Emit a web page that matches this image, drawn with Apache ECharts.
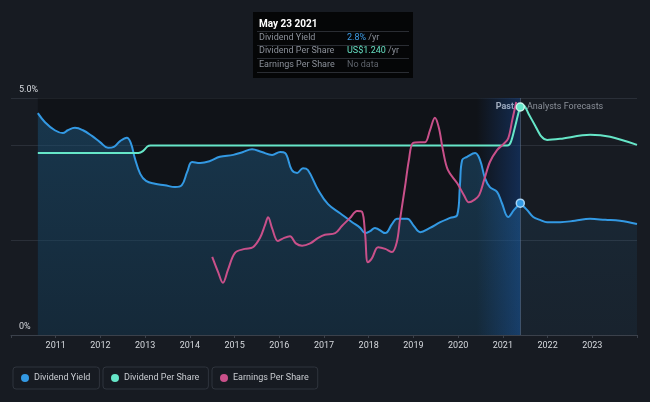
<!DOCTYPE html>
<html><head><meta charset="utf-8">
<script src="https://cdn.jsdelivr.net/npm/echarts@6/dist/echarts.min.js"></script>
<style>html,body{margin:0;padding:0;background:#171b22;}#c{width:650px;height:402px;}</style>
</head><body><div id="c"></div>
<script>
// ---- data (x = decimal year) ----
const xTickYears = [2011,2012,2013,2014,2015,2016,2017,2018,2019,2020,2021,2022,2023];
const yieldPast = [
 [2010.60,4.68],[2010.76,4.49],[2010.98,4.32],[2011.16,4.26],[2011.27,4.32],[2011.43,4.37],[2011.61,4.32],
 [2011.81,4.20],[2011.99,4.07],[2012.17,3.95],[2012.30,3.97],[2012.44,4.09],[2012.59,4.16],[2012.68,4.05],
 [2012.77,3.73],[2012.89,3.40],[2013.02,3.25],[2013.22,3.19],[2013.44,3.16],[2013.67,3.12],[2013.82,3.16],
 [2013.94,3.44],[2014.05,3.65],[2014.23,3.63],[2014.45,3.67],[2014.67,3.76],[2014.97,3.80],[2015.19,3.86],
 [2015.39,3.92],[2015.61,3.86],[2015.84,3.80],[2016.02,3.86],[2016.13,3.84],[2016.28,3.48],[2016.40,3.42],
 [2016.53,3.52],[2016.64,3.48],[2016.87,3.06],[2017.09,2.76],[2017.36,2.57],[2017.63,2.38],[2017.81,2.26],
 [2017.92,2.15],[2018.03,2.19],[2018.14,2.26],[2018.37,2.15],[2018.52,2.34],[2018.63,2.45],[2018.86,2.45],
 [2019.01,2.30],[2019.15,2.17],[2019.37,2.26],[2019.60,2.38],[2019.82,2.47],[2019.98,2.53],[2020.04,3.16],
 [2020.09,3.69],[2020.20,3.76],[2020.38,3.84],[2020.49,3.69],[2020.60,3.31],[2020.71,3.12],[2020.87,3.02],
 [2020.98,2.78],[2021.12,2.49],[2021.25,2.64],[2021.39,2.78]
];
const yieldForecast = [
 [2021.39,2.78],[2021.54,2.64],[2021.68,2.49],[2021.83,2.43],[2021.99,2.38],[2022.28,2.38],[2022.61,2.41],
 [2022.95,2.45],[2023.29,2.43],[2023.62,2.41],[2024.00,2.34]
];
const dpsData = [
 [2010.60,0.99],[2011.50,0.99],[2012.50,0.99],[2012.85,0.99],[2012.95,1.00],[2013.05,1.025],[2013.12,1.03],
 [2014.5,1.03],[2016.5,1.03],[2018.5,1.03],[2020.5,1.03],[2021.10,1.03],[2021.18,1.05],[2021.28,1.14],
 [2021.39,1.24],[2021.46,1.25],[2021.58,1.20],[2021.72,1.14],[2021.86,1.08],[2021.99,1.061],[2022.28,1.067],
 [2022.95,1.089],[2023.40,1.078],[2024.00,1.034]
];
const epsData = [
 [2014.50,0.99],[2014.63,0.80],[2014.74,0.66],[2014.85,0.82],[2015.01,1.04],[2015.23,1.09],[2015.41,1.11],
 [2015.57,1.23],[2015.68,1.39],[2015.75,1.49],[2015.84,1.35],[2015.97,1.19],[2016.11,1.23],[2016.24,1.25],
 [2016.37,1.16],[2016.51,1.13],[2016.69,1.16],[2016.87,1.23],[2017.02,1.27],[2017.25,1.29],[2017.40,1.38],
 [2017.58,1.48],[2017.74,1.57],[2017.85,1.56],[2017.92,1.27],[2017.98,0.92],[2018.07,0.97],[2018.21,1.11],
 [2018.37,1.09],[2018.52,1.05],[2018.63,1.18],[2018.70,1.46],[2018.81,1.87],[2018.90,2.22],[2018.99,2.43],
 [2019.15,2.44],[2019.26,2.44],[2019.37,2.59],[2019.48,2.75],[2019.57,2.62],[2019.66,2.34],[2019.77,2.09],
 [2019.98,1.92],[2020.13,1.77],[2020.24,1.68],[2020.36,1.71],[2020.47,1.77],[2020.58,1.96],[2020.71,2.19],
 [2020.87,2.34],[2021.00,2.41],[2021.12,2.49],[2021.21,2.72],[2021.30,2.95]
];
const nowX = 2021.39;
const pastStart = 2010.60;
const bandStart = 2020.42;
const currentYield = 2.78, currentDps = 1.24;

const FONT = 'Roboto';
const C_BLUE = '#3399e3', C_TEAL = '#66e6c8', C_PINK = '#c9508a';

const chart = echarts.init(document.getElementById('c'), null, {renderer:'canvas'});
function legendFor(name, left){
  return {left:left, top:367, data:[name], icon:'circle', itemWidth:8, itemHeight:8,
    padding:[5,9,5,8], borderColor:'#2f343d', borderWidth:1, borderRadius:3, selectedMode:false,
    textStyle:{color:'#c9ccd1', fontSize:9, fontFamily:FONT, lineHeight:12}};
}
chart.setOption({
  backgroundColor:'#171b22',
  animation:false,
  grid:{left:11, right:13, top:98, bottom:67},
  legend:[legendFor('Dividend Yield',13), legendFor('Dividend Per Share',103), legendFor('Earnings Per Share',212)],
  xAxis:{type:'value', min:2010, max:2024, interval:1,
    axisLine:{lineStyle:{color:'#3b414b'}},
    axisTick:{length:3, lineStyle:{color:'#3b414b'}},
    splitLine:{show:false},
    axisLabel:{color:'#d6d9de', fontSize:9, fontFamily:FONT, margin:6,
      formatter:v=> xTickYears.indexOf(v)>=0 ? String(v) : ''}},
  yAxis:[
    {type:'value', min:0, max:5, interval:2,
      axisLine:{show:false}, axisTick:{show:false},
      splitLine:{lineStyle:{color:'#2a2f38'}},
      axisLabel:{inside:true, margin:8, verticalAlign:'bottom', padding:[0,0,4,0],
        color:'#d6d9de', fontSize:9, fontFamily:FONT,
        formatter:v=> v===0 ? '0%' : (v===5 ? '5.0%' : '')}},
    {type:'value', min:0, max:1.289, show:false},
    {type:'value', min:0, max:3.0, show:false}
  ],
  series:[
    {name:'shade', type:'line', z:0, data:[[pastStart,0]], symbol:'none', lineStyle:{opacity:0}, silent:true,
      markArea:{silent:true, itemStyle:{color:'rgba(0,0,0,0.27)'}, data:[[{xAxis:pastStart},{xAxis:nowX}]]}},
    {name:'Dividend Yield', type:'line', z:2, data:yieldPast, smooth:0.4, symbol:'none',
      lineStyle:{color:C_BLUE, width:2}, itemStyle:{color:C_BLUE},
      areaStyle:{color:new echarts.graphic.LinearGradient(0,0,0,1,[{offset:0,color:'rgba(45,150,220,0.38)'},{offset:1,color:'rgba(45,150,220,0.24)'}])}},
    {name:'Dividend Yield', type:'line', z:2, data:yieldForecast, smooth:0.4, symbol:'none',
      lineStyle:{color:C_BLUE, width:2}, itemStyle:{color:C_BLUE},
      areaStyle:{color:new echarts.graphic.LinearGradient(0,0,0,1,[{offset:0,color:'rgba(45,150,220,0.14)'},{offset:1,color:'rgba(45,150,220,0.09)'}])},
      markPoint:{symbol:'circle', symbolSize:8, label:{show:false}, silent:true,
        itemStyle:{color:C_BLUE, borderColor:'#a8d4f5', borderWidth:1.5},
        data:[{coord:[nowX,currentYield]}]}},
    {name:'band', type:'line', z:3, data:[[nowX,0]], symbol:'none', lineStyle:{opacity:0}, silent:true,
      markArea:{silent:true, itemStyle:{color:new echarts.graphic.LinearGradient(0,0,1,0,[{offset:0,color:'rgba(25,95,200,0)'},{offset:1,color:'rgba(25,95,200,0.33)'}])},
        data:[[{xAxis:bandStart},{xAxis:nowX}]]},
      markLine:{silent:true, symbol:'none', label:{show:false}, lineStyle:{color:'rgba(110,130,160,0.45)', width:1, type:'solid'},
        data:[{xAxis:nowX}]}},
    {name:'Dividend Per Share', type:'line', z:4, yAxisIndex:1, data:dpsData, smooth:0.3, symbol:'none',
      lineStyle:{color:C_TEAL, width:2}, itemStyle:{color:C_TEAL},
      markPoint:{symbol:'circle', symbolSize:8, label:{show:false}, silent:true,
        itemStyle:{color:C_TEAL, borderColor:'#c8f7ea', borderWidth:1.5},
        data:[{coord:[nowX,currentDps]}]}},
    {name:'Earnings Per Share', type:'line', z:4, yAxisIndex:2, data:epsData, smooth:0.35, symbol:'none',
      lineStyle:{color:C_PINK, width:2}, itemStyle:{color:C_PINK}}
  ],
  graphic:[
    {type:'rect', left:253, top:12, shape:{width:160, height:66}, style:{fill:'#050607'}},
    {type:'text', left:259, top:19, style:{text:'May 23 2021', fill:'#ffffff', font:'bold 10px Roboto'}},
    {type:'line', shape:{x1:257,y1:31.5,x2:409,y2:31.5}, style:{stroke:'#2a2d33', lineWidth:1}},
    {type:'line', shape:{x1:257,y1:45.5,x2:409,y2:45.5}, style:{stroke:'#2a2d33', lineWidth:1}},
    {type:'line', shape:{x1:257,y1:58.5,x2:409,y2:58.5}, style:{stroke:'#2a2d33', lineWidth:1}},
    {type:'line', shape:{x1:257,y1:72.5,x2:409,y2:72.5}, style:{stroke:'#2a2d33', lineWidth:1}},
    {type:'text', left:259, top:33, style:{text:'Dividend Yield', fill:'#8b9099', font:'9px Roboto'}},
    {type:'text', left:259, top:46.5, style:{text:'Dividend Per Share', fill:'#8b9099', font:'9px Roboto'}},
    {type:'text', left:259, top:60, style:{text:'Earnings Per Share', fill:'#8b9099', font:'9px Roboto'}},
    {type:'text', left:347, top:33, style:{text:'{a|2.8%} {b|/yr}', font:'9px Roboto',
      rich:{a:{fill:'#3d9ce6', fontSize:9, fontFamily:FONT}, b:{fill:'#8b9099', fontSize:9, fontFamily:FONT}}}},
    {type:'text', left:347, top:46.5, style:{text:'{a|US$1.240} {b|/yr}', font:'9px Roboto',
      rich:{a:{fill:'#66e0c2', fontSize:9, fontFamily:FONT}, b:{fill:'#8b9099', fontSize:9, fontFamily:FONT}}}},
    {type:'text', left:347, top:60, style:{text:'No data', fill:'#5f646c', font:'9px Roboto'}},
    {type:'text', right:650-514, top:102, style:{text:'Past', fill:'#ffffff', font:'bold 9px Roboto'}},
    {type:'text', left:527, top:102, style:{text:'Analysts Forecasts', fill:'#8b9099', font:'9px Roboto'}}
  ]
});
</script></body></html>
